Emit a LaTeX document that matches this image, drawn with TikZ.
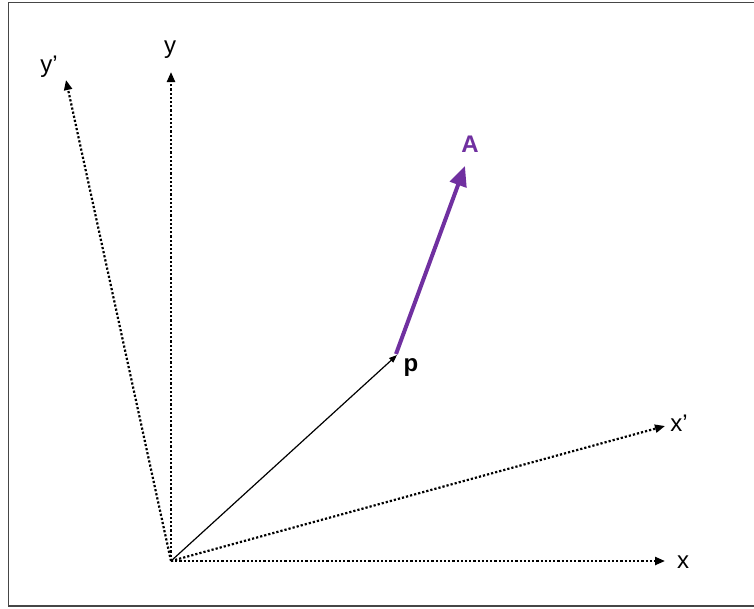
\documentclass[tikz,border=0pt]{standalone}
\usepackage{fontspec}
\setmainfont{Liberation Sans}
\usetikzlibrary{arrows.meta}
\definecolor{vpurple}{RGB}{112,48,160}
\definecolor{framegray}{RGB}{70,70,70}
\tikzset{
  axis/.style={line width=2.2pt, dash pattern=on 2.2pt off 2pt, -{Triangle[length=10pt,width=8pt]}},
  lbl/.style={font=\fontsize{24}{28}\selectfont, inner sep=0pt},
  blbl/.style={font=\fontsize{24}{28}\selectfont\bfseries, inner sep=0pt},
}
\begin{document}
\begin{tikzpicture}[x=1pt,y=-1pt]
\useasboundingbox (0,0) rectangle (754,608);
\draw[framegray, line width=1.5pt] (760,2.5) -- (8.5,2.5) -- (8.5,606) -- (760,606);
\coordinate (O) at (171,561);
\coordinate (xe) at (665,561);
\coordinate (xpe) at (665,426);
\coordinate (ye) at (171,72);
\coordinate (ype) at (66,80);
\coordinate (P) at (397,355);
\coordinate (Ae) at (465,166);
\draw[axis] (O) -- (xe);
\draw[axis] (O) -- (xpe);
\draw[axis] (O) -- (ye);
\draw[axis] (O) -- (ype);
\draw[line width=1.2pt, -{Triangle[length=8pt,width=6pt]}] (O) -- (P);
\draw[vpurple, line width=4pt, -{Triangle[length=20pt,width=17pt]}] (396,354) -- (Ae);
\node[lbl] (lx) at (683,562) {x};
\node[lbl] (lxp) at (679,423) {x’};
\node[lbl] (ly) at (170,50) {y};
\node[lbl] (lyp) at (49,67) {y’};
\node[blbl] (lp) at (411,368) {p};
\node[blbl, text=vpurple] (lA) at (470,144) {A};
\end{tikzpicture}
\end{document}
